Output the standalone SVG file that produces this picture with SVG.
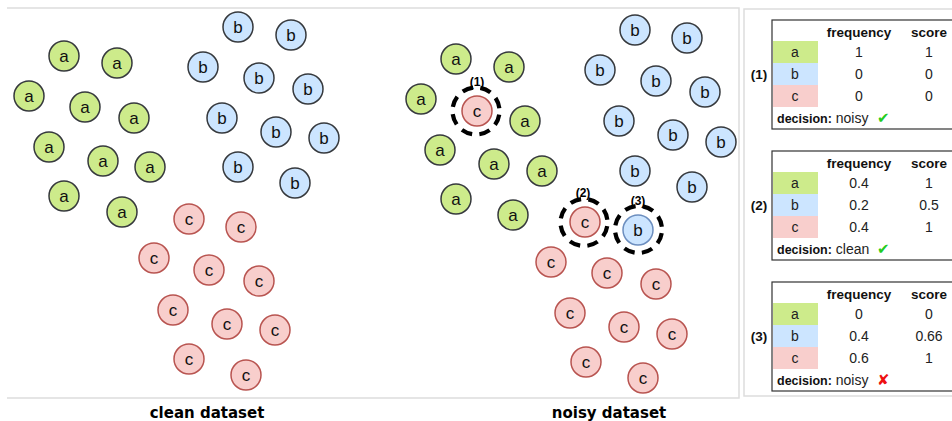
<svg xmlns="http://www.w3.org/2000/svg" width="952" height="421" viewBox="0 0 952 421">
  <defs>
    <style>
      .frame { fill: none; stroke: #dddddd; stroke-width: 1.5; }
      .pt { stroke-width: 1.5; }
      .pa { fill: #cdeb8b; stroke: #36393d; }
      .pb { fill: #cce5ff; stroke: #36393d; }
      .pc { fill: #f8cecc; stroke: #b85450; }
      .pb-odd { fill: #cce5ff; stroke: #6c8ebf; }
      .lbl { font-family: "Liberation Sans", Arial, sans-serif; font-size: 17px; fill: #111; text-anchor: middle; }
      .ring { fill: none; stroke: #000; stroke-width: 4.2; stroke-dasharray: 11 7.46; stroke-dashoffset: 14.73; }
      .tag { font-family: "Liberation Sans", Arial, sans-serif; font-size: 12px; font-weight: bold; fill: #000; text-anchor: middle; }
      .caption { font-family: "DejaVu Sans", Verdana, sans-serif; font-size: 15px; font-weight: bold; fill: #000; text-anchor: middle; }
      .tbl { fill: #fff; stroke: #333; stroke-width: 1.2; }
      .ca { fill: #cdeb8b; }
      .cb { fill: #cce5ff; }
      .cc { fill: #f8cecc; }
      .t { font-family: "Liberation Sans", Arial, sans-serif; font-size: 14px; fill: #222; text-anchor: middle; }
      .th { font-family: "Liberation Sans", Arial, sans-serif; font-size: 13.5px; font-weight: bold; fill: #111; text-anchor: middle; }
      .dec { font-family: "Liberation Sans", Arial, sans-serif; font-size: 14px; fill: #222; }
      .dec tspan { font-weight: bold; font-size: 12.5px; fill: #111; }
      .ok { font-family: "DejaVu Sans", sans-serif; font-size: 15px; fill: #22cc22; }
      .bad { font-family: "DejaVu Sans", sans-serif; font-size: 15px; fill: #ee1111; }
    </style>
  </defs>

  <!-- panel frames -->
  <path class="frame" d="M7 8 H739 V398 H7"/>
  <path class="frame" d="M960 9 H744 V396 H960"/>

  <!-- clean dataset -->
  <g id="clean">
    <g class="pt pa">
      <circle cx="64" cy="56" r="15"/><circle cx="117" cy="63" r="15"/><circle cx="29" cy="96" r="15"/>
      <circle cx="85" cy="107" r="15"/><circle cx="134" cy="118" r="15"/><circle cx="49" cy="147" r="15"/>
      <circle cx="103" cy="161" r="15"/><circle cx="150" cy="167" r="15"/><circle cx="64" cy="196" r="15"/>
      <circle cx="122" cy="212" r="15"/>
    </g>
    <g class="lbl">
      <text x="64" y="62">a</text><text x="117" y="69">a</text><text x="29" y="102">a</text>
      <text x="85" y="113">a</text><text x="134" y="124">a</text><text x="49" y="153">a</text>
      <text x="103" y="167">a</text><text x="150" y="173">a</text><text x="64" y="202">a</text>
      <text x="122" y="218">a</text>
    </g>
    <g class="pt pb">
      <circle cx="238" cy="27" r="15"/><circle cx="291" cy="35" r="15"/><circle cx="203" cy="67" r="15"/>
      <circle cx="259" cy="78" r="15"/><circle cx="308" cy="89" r="15"/><circle cx="222" cy="118" r="15"/>
      <circle cx="276" cy="132" r="15"/><circle cx="324" cy="138" r="15"/><circle cx="238" cy="167" r="15"/>
      <circle cx="295" cy="183" r="15"/>
    </g>
    <g class="lbl">
      <text x="238" y="33">b</text><text x="291" y="41">b</text><text x="203" y="73">b</text>
      <text x="259" y="84">b</text><text x="308" y="95">b</text><text x="222" y="124">b</text>
      <text x="276" y="138">b</text><text x="324" y="144">b</text><text x="238" y="173">b</text>
      <text x="295" y="189">b</text>
    </g>
    <g class="pt pc">
      <circle cx="189" cy="219" r="15"/><circle cx="241" cy="227" r="15"/><circle cx="154" cy="258" r="15"/>
      <circle cx="209" cy="270" r="15"/><circle cx="259" cy="281" r="15"/><circle cx="173" cy="310" r="15"/>
      <circle cx="227" cy="324" r="15"/><circle cx="275" cy="330" r="15"/><circle cx="189" cy="359" r="15"/>
      <circle cx="246" cy="375" r="15"/>
    </g>
    <g class="lbl">
      <text x="189" y="225">c</text><text x="241" y="233">c</text><text x="154" y="264">c</text>
      <text x="209" y="276">c</text><text x="259" y="287">c</text><text x="173" y="316">c</text>
      <text x="227" y="330">c</text><text x="275" y="336">c</text><text x="189" y="365">c</text>
      <text x="246" y="381">c</text>
    </g>
    <text class="caption" x="207" y="418">clean dataset</text>
  </g>

  <!-- noisy dataset -->
  <g id="noisy">
    <g class="pt pa">
      <circle cx="456" cy="59" r="15"/><circle cx="509" cy="67" r="15"/><circle cx="421" cy="99" r="15"/>
      <circle cx="525" cy="121" r="15"/><circle cx="440" cy="150" r="15"/><circle cx="494" cy="164" r="15"/>
      <circle cx="542" cy="171" r="15"/><circle cx="456" cy="199" r="15"/><circle cx="513" cy="215" r="15"/>
    </g>
    <g class="lbl">
      <text x="456" y="65">a</text><text x="509" y="73">a</text><text x="421" y="105">a</text>
      <text x="525" y="127">a</text><text x="440" y="156">a</text><text x="494" y="170">a</text>
      <text x="542" y="177">a</text><text x="456" y="205">a</text><text x="513" y="221">a</text>
    </g>
    <g class="pt pb">
      <circle cx="635" cy="30" r="15"/><circle cx="687" cy="38" r="15"/><circle cx="600" cy="70" r="15"/>
      <circle cx="656" cy="81" r="15"/><circle cx="705" cy="92" r="15"/><circle cx="619" cy="121" r="15"/>
      <circle cx="673" cy="135" r="15"/><circle cx="721" cy="142" r="15"/><circle cx="635" cy="171" r="15"/>
      <circle cx="692" cy="187" r="15"/>
    </g>
    <g class="lbl">
      <text x="635" y="36">b</text><text x="687" y="44">b</text><text x="600" y="76">b</text>
      <text x="656" y="87">b</text><text x="705" y="98">b</text><text x="619" y="127">b</text>
      <text x="673" y="141">b</text><text x="721" y="148">b</text><text x="635" y="177">b</text>
      <text x="692" y="193">b</text>
    </g>
    <g class="pt pc">
      <circle cx="551" cy="262" r="15"/><circle cx="607" cy="273" r="15"/><circle cx="656" cy="284" r="15"/>
      <circle cx="570" cy="313" r="15"/><circle cx="624" cy="327" r="15"/><circle cx="672" cy="334" r="15"/>
      <circle cx="586" cy="362" r="15"/><circle cx="643" cy="378" r="15"/>
    </g>
    <g class="lbl">
      <text x="551" y="268">c</text><text x="607" y="279">c</text><text x="656" y="290">c</text>
      <text x="570" y="319">c</text><text x="624" y="333">c</text><text x="672" y="340">c</text>
      <text x="586" y="368">c</text><text x="643" y="384">c</text>
    </g>

    <!-- inspected points, each with a dashed neighbourhood ring -->
    <g id="probe1">
      <circle class="pt pc" cx="477" cy="111" r="15"/>
      <text class="lbl" x="477" y="117">c</text>
      <circle class="ring" cx="476" cy="111" r="23.5"/>
      <text class="tag" x="477" y="86">(1)</text>
    </g>
    <g id="probe2">
      <circle class="pt pc" cx="585" cy="222" r="15"/>
      <text class="lbl" x="585" y="228">c</text>
      <circle class="ring" cx="584" cy="222.5" r="23.5"/>
      <text class="tag" x="583" y="197">(2)</text>
    </g>
    <g id="probe3">
      <circle class="pt pb-odd" cx="638" cy="230" r="15"/>
      <text class="lbl" x="638" y="236">b</text>
      <circle class="ring" cx="638.5" cy="229.5" r="23.5"/>
      <text class="tag" x="638" y="205">(3)</text>
    </g>
    <text class="caption" x="609" y="418">noisy dataset</text>
  </g>

  <!-- neighbourhood tables -->
  <g id="table1">
    <rect class="tbl" x="772" y="20" width="190" height="109"/>
    <rect class="ca" x="773" y="41" width="45" height="22"/>
    <rect class="cb" x="773" y="63" width="45" height="22"/>
    <rect class="cc" x="773" y="85" width="45" height="22"/>
    <text class="th" x="759" y="79">(1)</text>
    <text class="th" x="859" y="37">frequency</text>
    <text class="th" x="929" y="37">score</text>
    <text class="t" x="795" y="57">a</text><text class="t" x="859" y="57">1</text><text class="t" x="929" y="57">1</text>
    <text class="t" x="795" y="79">b</text><text class="t" x="859" y="79">0</text><text class="t" x="929" y="79">0</text>
    <text class="t" x="795" y="101">c</text><text class="t" x="859" y="101">0</text><text class="t" x="929" y="101">0</text>
    <text class="dec" x="777" y="123"><tspan>decision:</tspan> noisy</text>
    <text class="ok" x="877" y="123">✔</text>
  </g>
  <g id="table2">
    <rect class="tbl" x="772" y="151" width="190" height="109"/>
    <rect class="ca" x="773" y="172" width="45" height="22"/>
    <rect class="cb" x="773" y="194" width="45" height="22"/>
    <rect class="cc" x="773" y="216" width="45" height="22"/>
    <text class="th" x="759" y="210">(2)</text>
    <text class="th" x="859" y="168">frequency</text>
    <text class="th" x="929" y="168">score</text>
    <text class="t" x="795" y="188">a</text><text class="t" x="859" y="188">0.4</text><text class="t" x="929" y="188">1</text>
    <text class="t" x="795" y="210">b</text><text class="t" x="859" y="210">0.2</text><text class="t" x="929" y="210">0.5</text>
    <text class="t" x="795" y="232">c</text><text class="t" x="859" y="232">0.4</text><text class="t" x="929" y="232">1</text>
    <text class="dec" x="777" y="254"><tspan>decision:</tspan> clean</text>
    <text class="ok" x="877" y="254">✔</text>
  </g>
  <g id="table3">
    <rect class="tbl" x="772" y="282" width="190" height="109"/>
    <rect class="ca" x="773" y="303" width="45" height="22"/>
    <rect class="cb" x="773" y="325" width="45" height="22"/>
    <rect class="cc" x="773" y="347" width="45" height="22"/>
    <text class="th" x="759" y="341">(3)</text>
    <text class="th" x="859" y="299">frequency</text>
    <text class="th" x="929" y="299">score</text>
    <text class="t" x="795" y="319">a</text><text class="t" x="859" y="319">0</text><text class="t" x="929" y="319">0</text>
    <text class="t" x="795" y="341">b</text><text class="t" x="859" y="341">0.4</text><text class="t" x="929" y="341">0.66</text>
    <text class="t" x="795" y="363">c</text><text class="t" x="859" y="363">0.6</text><text class="t" x="929" y="363">1</text>
    <text class="dec" x="777" y="385"><tspan>decision:</tspan> noisy</text>
    <text class="bad" x="877" y="385">✘</text>
  </g>
</svg>
